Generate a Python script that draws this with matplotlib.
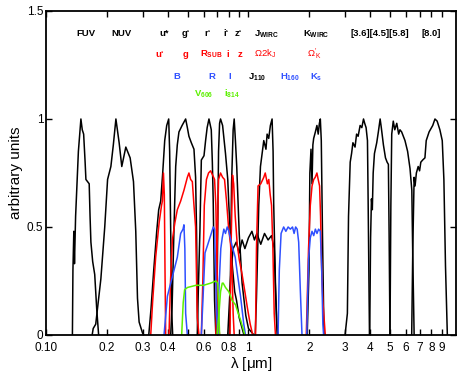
import matplotlib
matplotlib.use("Agg")
import matplotlib.pyplot as plt
from matplotlib.ticker import FixedLocator, FixedFormatter, NullLocator

plt.rcParams['font.family'] = ['Liberation Sans', 'DejaVu Sans']
plt.rcParams['mathtext.fontset'] = 'custom'
plt.rcParams['mathtext.rm'] = 'Liberation Sans'
plt.rcParams['mathtext.it'] = 'Liberation Sans'
plt.rcParams['mathtext.bf'] = 'Liberation Sans:bold'

# filter curves, wavelength in micron vs. normalised transmission
# GALEX
fuv_wl = [0.1350, 0.1358, 0.1372, 0.1382, 0.1400, 0.1445, 0.1487, 0.1510, 0.1534, 0.1560,
          0.1574, 0.1634, 0.1650, 0.1666, 0.1700, 0.1740, 0.1780, 0.1819]
fuv_tr = [0.0, 0.30, 0.48, 0.33, 0.55, 0.85, 1.00, 0.95, 0.93, 0.80,
          0.72, 0.70, 0.55, 0.43, 0.34, 0.28, 0.12, 0.0]
nuv_wl = [0.1690, 0.1710, 0.1760, 0.1866, 0.1950, 0.2014, 0.2091, 0.2150, 0.2214, 0.2297,
          0.2367, 0.2478, 0.2603, 0.2704, 0.2775, 0.2830, 0.2883, 0.2995, 0.3040]
nuv_tr = [0.0, 0.03, 0.05, 0.26, 0.50, 0.72, 0.78, 0.88, 1.00, 0.89,
          0.78, 0.87, 0.82, 0.71, 0.48, 0.17, 0.06, 0.01, 0.0]

# CFHT MegaCam
us_wl = [0.3217, 0.3300, 0.3404, 0.3522, 0.3602, 0.3685, 0.3770, 0.3857, 0.3946, 0.4036,
         0.4080, 0.4129, 0.4180, 0.4223]
us_tr = [0.0, 0.12, 0.30, 0.48, 0.58, 0.62, 0.75, 0.90, 0.97, 1.00,
         0.85, 0.48, 0.10, 0.0]
gp_wl = [0.4129, 0.4200, 0.4288, 0.4370, 0.4450, 0.4535, 0.4700, 0.4894, 0.4990, 0.5080,
         0.5220, 0.5380, 0.5480, 0.5540, 0.5590, 0.5625]
gp_tr = [0.0, 0.15, 0.50, 0.78, 0.88, 0.94, 0.97, 1.00, 0.96, 0.92,
         0.89, 0.86, 0.73, 0.48, 0.12, 0.0]
rp_wl = [0.5585, 0.5650, 0.5755, 0.5850, 0.6030, 0.6140, 0.6250, 0.6380, 0.6550, 0.6630,
         0.6697, 0.6799, 0.6900]
rp_tr = [0.0, 0.20, 0.48, 0.81, 0.83, 0.90, 0.96, 1.00, 0.95, 0.80,
         0.62, 0.16, 0.0]
ip_wl = [0.6960, 0.7050, 0.7115, 0.7200, 0.7278, 0.7450, 0.7700, 0.7900, 0.8000, 0.8200,
         0.8340, 0.8550, 0.8730, 0.9000, 0.9500]
ip_tr = [0.0, 0.50, 0.85, 0.98, 1.00, 0.97, 0.84, 0.72, 0.60, 0.40,
         0.31, 0.20, 0.16, 0.08, 0.0]
zp_wl = [0.8050, 0.8153, 0.8250, 0.8400, 0.8500, 0.8620, 0.8750, 0.9000, 0.9300, 0.9700,
         1.0000, 1.0630]
zp_tr = [0.0, 0.30, 0.70, 0.95, 1.00, 0.90, 0.78, 0.47, 0.24, 0.09,
         0.03, 0.0]

# WIRC
jw_wl = [1.0800, 1.0950, 1.1240, 1.1460, 1.1900, 1.2200, 1.2360, 1.2590, 1.2830, 1.3080,
         1.3230, 1.3320, 1.3590, 1.3850]
jw_tr = [0.0, 0.17, 0.60, 0.78, 0.90, 0.86, 0.93, 0.91, 0.97, 1.00,
         0.85, 0.61, 0.24, 0.0]
kw_wl = [1.9500, 1.9900, 2.0100, 2.0360, 2.0600, 2.0800, 2.0990, 2.1400, 2.1780, 2.2100,
         2.2400, 2.2640, 2.2890, 2.3200, 2.3600]
kw_tr = [0.0, 0.30, 0.75, 0.86, 0.70, 0.88, 0.91, 0.94, 0.97, 0.93,
         0.98, 1.00, 0.90, 0.47, 0.0]

# NICMOS F110W
j110_wl = [0.7900, 0.8050, 0.8200, 0.8400, 0.8700, 0.9000, 0.9300, 0.9600, 1.0000, 1.0400,
           1.0700, 1.1000, 1.1500, 1.2000, 1.2500, 1.3000, 1.3400, 1.3600, 1.3800, 1.4000]
j110_tr = [0.0, 0.15, 0.30, 0.40, 0.43, 0.38, 0.44, 0.40, 0.45, 0.48,
           0.44, 0.47, 0.42, 0.47, 0.44, 0.46, 0.40, 0.20, 0.05, 0.0]

# IRAC
i36_wl = [3.0000, 3.0800, 3.1200, 3.1800, 3.2300, 3.2800, 3.3600, 3.4200, 3.4800, 3.5600,
          3.6300, 3.7000, 3.7500, 3.8100, 3.8700, 3.9000, 3.9600]
i36_tr = [0.0, 0.10, 0.55, 0.80, 0.84, 0.89, 0.87, 0.93, 0.92, 0.97,
          0.96, 1.00, 0.98, 0.96, 0.90, 0.62, 0.0]
i45_wl = [3.9700, 4.0100, 4.0500, 4.0900, 4.1300, 4.1900, 4.3000, 4.3800, 4.4700, 4.5300,
          4.6400, 4.7500, 4.8400, 4.9100, 4.9500, 5.0000]
i45_tr = [0.0, 0.45, 0.63, 0.58, 0.75, 0.84, 0.89, 0.94, 1.00, 0.96,
          0.88, 0.82, 0.80, 0.79, 0.47, 0.0]
i58_wl = [5.0000, 5.0500, 5.1000, 5.1900, 5.2800, 5.4000, 5.5200, 5.6000, 5.7100, 5.9300,
          6.1100, 6.2800, 6.4100, 6.4700, 6.5800]
i58_tr = [0.0, 0.60, 0.93, 0.99, 0.95, 0.98, 0.93, 0.95, 0.94, 0.90,
          0.85, 0.77, 0.67, 0.40, 0.0]
i80_wl = [6.4000, 6.4800, 6.5800, 6.6500, 6.7500, 6.8900, 7.0000, 7.1000, 7.2500, 7.4400,
          7.5500, 7.8000, 8.1300, 8.3400, 8.5500, 8.8200, 9.0600, 9.2300, 9.4000, 9.6000]
i80_tr = [0.0, 0.40, 0.73, 0.69, 0.75, 0.78, 0.76, 0.80, 0.81, 0.82,
          0.90, 0.94, 0.97, 1.00, 0.99, 0.95, 0.90, 0.72, 0.32, 0.0]

# red set: SDSS u g i z, Subaru R, Omega2000 J, Omega-Prime K
u_wl = [0.3290, 0.3360, 0.3480, 0.3620, 0.3720, 0.3757, 0.3802, 0.3840, 0.3870, 0.3900]
u_tr = [0.0, 0.15, 0.36, 0.52, 0.60, 0.62, 0.75, 0.65, 0.30, 0.0]
g_wl = [0.4050, 0.4120, 0.4208, 0.4330, 0.4452, 0.4624, 0.4800, 0.4990, 0.5080, 0.5180,
        0.5281, 0.5380, 0.5480, 0.5587, 0.5694]
g_tr = [0.0, 0.25, 0.44, 0.52, 0.58, 0.62, 0.67, 0.73, 0.75, 0.72,
        0.71, 0.60, 0.50, 0.08, 0.0]
rsub_wl = [0.5850, 0.5950, 0.6050, 0.6200, 0.6350, 0.6500, 0.6650, 0.6800, 0.6900, 0.7000,
           0.7115, 0.7200]
rsub_tr = [0.0, 0.25, 0.60, 0.72, 0.75, 0.76, 0.74, 0.72, 0.60, 0.30,
           0.05, 0.0]
i_wl = [0.6900, 0.7000, 0.7115, 0.7278, 0.7450, 0.7616, 0.7791, 0.7970, 0.8153, 0.8300,
        0.8400, 0.8500]
i_tr = [0.0, 0.40, 0.72, 0.75, 0.73, 0.72, 0.62, 0.50, 0.42, 0.30,
        0.10, 0.0]
z_wl = [0.8100, 0.8200, 0.8340, 0.8450, 0.8600, 0.8800, 0.9000, 0.9300, 0.9600, 0.9900,
        1.0200, 1.0500]
z_tr = [0.0, 0.40, 0.74, 0.70, 0.55, 0.42, 0.35, 0.28, 0.20, 0.12,
        0.05, 0.0]
o2kj_wl = [1.0830, 1.0950, 1.1150, 1.1500, 1.1900, 1.2100, 1.2400, 1.2600, 1.2800, 1.3000,
           1.3200, 1.3400, 1.3590]
o2kj_tr = [0.0, 0.40, 0.69, 0.70, 0.73, 0.75, 0.70, 0.72, 0.65, 0.60,
           0.40, 0.10, 0.0]
opk_wl = [1.9300, 1.9800, 2.0200, 2.0600, 2.1000, 2.1370, 2.1780, 2.2100, 2.2450, 2.2700,
          2.3000, 2.3330, 2.3950]
opk_tr = [0.0, 0.40, 0.60, 0.69, 0.72, 0.73, 0.75, 0.72, 0.69, 0.55,
          0.30, 0.15, 0.0]

# blue set: B R I, NICMOS F160W, Ks
b_wl = [0.3827, 0.3977, 0.4208, 0.4452, 0.4624, 0.4750, 0.4800, 0.4850, 0.4894, 0.4990]
b_tr = [0.0, 0.18, 0.27, 0.36, 0.47, 0.49, 0.51, 0.40, 0.10, 0.0]
r_wl = [0.5850, 0.5950, 0.6100, 0.6300, 0.6500, 0.6700, 0.6800, 0.6880, 0.6950, 0.7050]
r_tr = [0.0, 0.15, 0.38, 0.42, 0.46, 0.50, 0.49, 0.30, 0.10, 0.0]
ib_wl = [0.7050, 0.7144, 0.7300, 0.7420, 0.7556, 0.7700, 0.7850, 0.8000, 0.8310, 0.8600,
         0.8797, 0.9133, 0.9480, 0.9665]
ib_tr = [0.0, 0.21, 0.40, 0.45, 0.49, 0.47, 0.50, 0.48, 0.41, 0.36,
         0.29, 0.18, 0.05, 0.0]
h160_wl = [1.4000, 1.4200, 1.4490, 1.4920, 1.5300, 1.5700, 1.6100, 1.6500, 1.6800, 1.7100,
           1.7400, 1.7700, 1.8030, 1.8380]
h160_tr = [0.0, 0.30, 0.47, 0.50, 0.48, 0.50, 0.49, 0.50, 0.47, 0.50,
           0.49, 0.43, 0.21, 0.0]
ks_wl = [1.9400, 1.9800, 2.0200, 2.0600, 2.1000, 2.1400, 2.1800, 2.2200, 2.2640, 2.3000,
         2.3300, 2.3500]
ks_tr = [0.0, 0.35, 0.45, 0.48, 0.46, 0.49, 0.47, 0.49, 0.48, 0.30,
         0.05, 0.0]

# green set: ACS F606W, F814W
v606_wl = [0.4677, 0.4760, 0.4838, 0.5000, 0.5500, 0.6000, 0.6500, 0.6900, 0.7050, 0.7115, 0.7200]
v606_tr = [0.0, 0.15, 0.21, 0.22, 0.23, 0.23, 0.24, 0.25, 0.24, 0.15, 0.0]
i814_wl = [0.6990, 0.7150, 0.7278, 0.7420, 0.7500, 0.7700, 0.8000, 0.8300, 0.8630, 0.8900,
           0.9133, 0.9400, 0.9590]
i814_tr = [0.0, 0.10, 0.20, 0.24, 0.24, 0.22, 0.20, 0.16, 0.14, 0.10,
           0.07, 0.03, 0.0]

BLACK = 'black'
RED = '#ff0000'
BLUE = '#2f50ff'
GREEN = '#5cf000'

curves = [
    (fuv_wl, fuv_tr, BLACK), (nuv_wl, nuv_tr, BLACK),
    (us_wl, us_tr, BLACK), (gp_wl, gp_tr, BLACK), (rp_wl, rp_tr, BLACK),
    (ip_wl, ip_tr, BLACK), (zp_wl, zp_tr, BLACK), (jw_wl, jw_tr, BLACK),
    (kw_wl, kw_tr, BLACK), (j110_wl, j110_tr, BLACK),
    (i36_wl, i36_tr, BLACK), (i45_wl, i45_tr, BLACK), (i58_wl, i58_tr, BLACK),
    (i80_wl, i80_tr, BLACK),
    (u_wl, u_tr, RED), (g_wl, g_tr, RED), (rsub_wl, rsub_tr, RED), (i_wl, i_tr, RED),
    (z_wl, z_tr, RED), (o2kj_wl, o2kj_tr, RED), (opk_wl, opk_tr, RED),
    (b_wl, b_tr, BLUE), (r_wl, r_tr, BLUE), (ib_wl, ib_tr, BLUE),
    (h160_wl, h160_tr, BLUE), (ks_wl, ks_tr, BLUE),
    (v606_wl, v606_tr, GREEN), (i814_wl, i814_tr, GREEN),
]

# filter names (label, left x in micron, baseline height, colour)
labels = [
    ('FUV', 0.1406, 1.384, BLACK), ('NUV', 0.2091, 1.384, BLACK),
    ('u*', 0.3644, 1.384, BLACK), ('g\u2018', 0.4677, 1.384, BLACK),
    ('r\u2018', 0.607, 1.384, BLACK), ('i\u2018', 0.753, 1.384, BLACK),
    ('z\u2018', 0.853, 1.384, BLACK), (r'$\mathbf{J_{WIRC}}$', 1.07, 1.384, BLACK),
    (r'$\mathbf{K_{WIRC}}$', 1.866, 1.384, BLACK),
    ('[3.6][4.5][5.8]', 3.18, 1.384, BLACK), ('[8.0]', 7.12, 1.384, BLACK),
    ('u\u2018', 0.348, 1.289, RED), ('g', 0.473, 1.289, RED),
    (r'$\mathbf{R_{SUB}}$', 0.5737, 1.289, RED), ('i', 0.7791, 1.289, RED),
    ('z', 0.8827, 1.289, RED), (r'$\Omega\mathrm{2k}_J$', 1.07, 1.289, RED),
    (r"$\Omega'_K$", 1.952, 1.289, RED),
    ('B', 0.4271, 1.185, BLUE), ('R', 0.6353, 1.185, BLUE), ('I', 0.797, 1.185, BLUE),
    (r'$\mathbf{J_{110}}$', 1.0, 1.185, BLACK), (r'$\mathbf{H_{160}}$', 1.438, 1.185, BLUE),
    (r'$\mathbf{K_s}$', 2.02, 1.185, BLUE),
    (r'$\mathbf{V_{606}}$', 0.5358, 1.106, GREEN), (r'$\mathbf{i_{814}}$', 0.753, 1.106, GREEN),
]

xticks = [0.1, 0.2, 0.3, 0.4, 0.5, 0.6, 0.7, 0.8, 0.9, 1, 2, 3, 4, 5, 6, 7, 8, 9]
xticklabels = ['0.10', '0.2', '0.3', '0.4', '', '0.6', '', '0.8', '', '1',
               '2', '3', '4', '5', '6', '7', '8', '9']
yticks = [0, 0.5, 1, 1.5]
yticklabels = ['0', '0.5', '1', '1.5']

fig = plt.figure(figsize=(4.63, 3.75), dpi=100)
ax = fig.add_axes([0.0994, 0.1067, 0.8856, 0.864])

for wl, tr, col in curves:
    ax.plot(wl, tr, color=col, lw=1.1)

for txt, x, y, col in labels:
    ax.text(x, y, txt, color=col, fontsize=6.8, fontweight='bold',
            ha='left', va='baseline')

ax.set_xscale('log')
ax.set_xlim(0.1, 10.6)
ax.set_ylim(0, 1.5)
ax.xaxis.set_major_locator(FixedLocator(xticks))
ax.xaxis.set_major_formatter(FixedFormatter(xticklabels))
ax.xaxis.set_minor_locator(NullLocator())
ax.yaxis.set_major_locator(FixedLocator(yticks))
ax.yaxis.set_major_formatter(FixedFormatter(yticklabels))
ax.tick_params(direction='in', top=True, right=True, length=4, width=1,
               labelsize=8.5)
ax.tick_params(axis='x', pad=5)
ax.tick_params(axis='y', pad=2)
for sp in ax.spines.values():
    sp.set_linewidth(1.3)

ax.set_xlabel(r'$\lambda$ [$\mu$m]', fontsize=11, labelpad=1)
ax.set_ylabel('arbitrary units', fontsize=11, labelpad=3)

fig.savefig('out.png', dpi=100)
